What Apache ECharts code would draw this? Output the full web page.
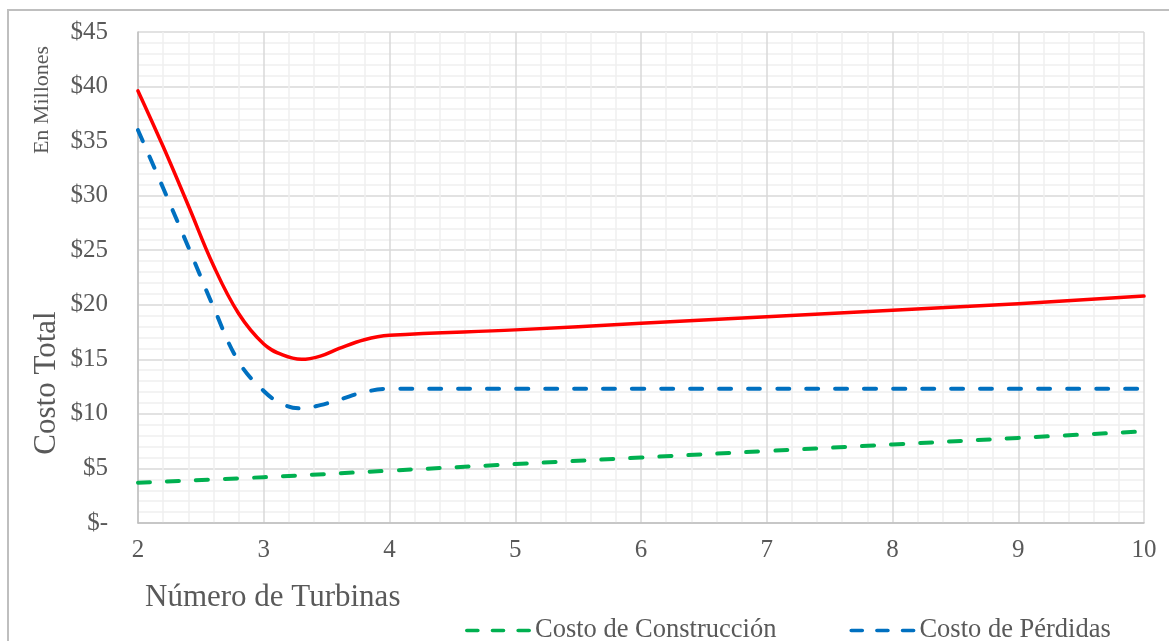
<!DOCTYPE html>
<html>
<head>
<meta charset="utf-8">
<script src="https://cdn.jsdelivr.net/npm/echarts@6/dist/echarts.min.js"></script>
<style>
html,body{margin:0;padding:0;background:#fff;}
#chart{width:1169px;height:641px;}
</style>
</head>
<body>
<div id="chart"></div>
<script>
// Data (values in millions of $)
const turbinas = [2, 3, 4, 5, 6, 7, 8, 9, 10];
const costoConstruccion = [3.7, 4.2, 4.8, 5.4, 6.0, 6.6, 7.2, 7.8, 8.4];
// curve samples (the drawn curve dips between 3 and 4)
const turbinasCurva = [2, 2.2, 2.4, 2.6, 2.8, 3, 3.15, 3.3, 3.45, 3.6, 3.8, 4, 5, 6, 7, 8, 9, 10];
const costoPerdidas = [36.0, 30.7, 25.3, 19.8, 14.8, 12.1, 10.9, 10.5, 10.8, 11.3, 12.0, 12.3, 12.3, 12.3, 12.3, 12.3, 12.3, 12.3];
const costoTotal = [39.6, 34.5, 29.1, 23.6, 19.2, 16.4, 15.4, 15.0, 15.3, 16.0, 16.8, 17.2, 17.7, 18.3, 18.9, 19.5, 20.1, 20.8];
const yTicks = [0, 5, 10, 15, 20, 25, 30, 35, 40, 45];

const FONT = "'Liberation Serif', 'Times New Roman', serif";
const TXT = '#595959';

function pairs(xs, vals) { return xs.map((x, i) => [x, vals[i]]); }

const dashIcon = 'path://M2,0h12a2,2 0 0 1 0,4h-12a2,2 0 0 1 0,-4z M30,0h12a2,2 0 0 1 0,4h-12a2,2 0 0 1 0,-4z M58,0h12a2,2 0 0 1 0,4h-12a2,2 0 0 1 0,-4z';

const chart = echarts.init(document.getElementById('chart'), null, {renderer: 'canvas'});
chart.setOption({
  animation: false,
  backgroundColor: '#ffffff',
  grid: {left: 138, right: 25, top: 32, bottom: 118, containLabel: false},
  xAxis: {
    type: 'value', min: 2, max: 10, interval: 1,
    axisLine: {show: true, lineStyle: {color: '#bfbfbf', width: 1.5}},
    axisTick: {show: false},
    axisLabel: {color: TXT, fontFamily: FONT, fontSize: 25, margin: 15},
    splitLine: {show: true, lineStyle: {color: '#d9d9d9', width: 1.5}},
    minorTick: {show: false, splitNumber: 5},
    minorSplitLine: {show: true, lineStyle: {color: '#f0f0f0', width: 1.5}}
  },
  yAxis: {
    type: 'value', min: yTicks[0], max: yTicks[yTicks.length - 1], interval: 5,
    axisLine: {show: true, lineStyle: {color: '#bfbfbf', width: 1.5}},
    axisTick: {show: false},
    axisLabel: {
      color: TXT, fontFamily: FONT, fontSize: 25, margin: 30,
      formatter: v => v === 0 ? '$-' : '$' + v
    },
    splitLine: {show: true, lineStyle: {color: '#d9d9d9', width: 1.5}},
    minorTick: {show: false, splitNumber: 5},
    minorSplitLine: {show: true, lineStyle: {color: '#f0f0f0', width: 1.5}}
  },
  legend: {
    data: [
      {name: 'Costo de Construcción', icon: dashIcon},
      {name: 'Costo de Pérdidas', icon: dashIcon}
    ],
    left: 460, top: 612,
    itemWidth: 66, itemHeight: 4, itemGap: 73,
    textStyle: {color: TXT, fontFamily: FONT, fontSize: 26.5, padding: [0, 0, 0, -1]}
  },
  graphic: [
    {type: 'rect', shape: {x: 8, y: 10, width: 1300, height: 800},
     style: {fill: 'none', stroke: '#bfbfbf', lineWidth: 2}, z: 100, silent: true},
    {type: 'text', x: 47, y: 383, rotation: Math.PI / 2,
     style: {text: 'Costo Total', font: '31px ' + FONT, fill: TXT, align: 'center', verticalAlign: 'middle'}},
    {type: 'text', x: 42, y: 100, rotation: Math.PI / 2,
     style: {text: 'En Millones', font: '22px ' + FONT, fill: TXT, align: 'center', verticalAlign: 'middle'}},
    {type: 'text', x: 145, y: 598,
     style: {text: 'Número de Turbinas', font: '31px ' + FONT, fill: TXT, align: 'left', verticalAlign: 'middle'}}
  ],
  series: [
    {
      name: 'Costo Total', type: 'line', data: pairs(turbinasCurva, costoTotal), smooth: 0.4,
      showSymbol: false, symbol: 'none',
      lineStyle: {color: '#ff0000', width: 3.5, cap: 'round', join: 'round'},
      itemStyle: {color: '#ff0000'}, z: 3
    },
    {
      name: 'Costo de Construcción', type: 'line', data: pairs(turbinas, costoConstruccion), smooth: 0.4,
      showSymbol: false, symbol: 'none',
      lineStyle: {color: '#00b050', width: 4, type: [12, 17], cap: 'round'},
      itemStyle: {color: '#00b050'}, z: 2
    },
    {
      name: 'Costo de Pérdidas', type: 'line', data: pairs(turbinasCurva, costoPerdidas), smooth: 0.4,
      showSymbol: false, symbol: 'none',
      lineStyle: {color: '#0070c0', width: 4, type: [12, 17], cap: 'round'},
      itemStyle: {color: '#0070c0'}, z: 2
    }
  ]
});
</script>
</body>
</html>
